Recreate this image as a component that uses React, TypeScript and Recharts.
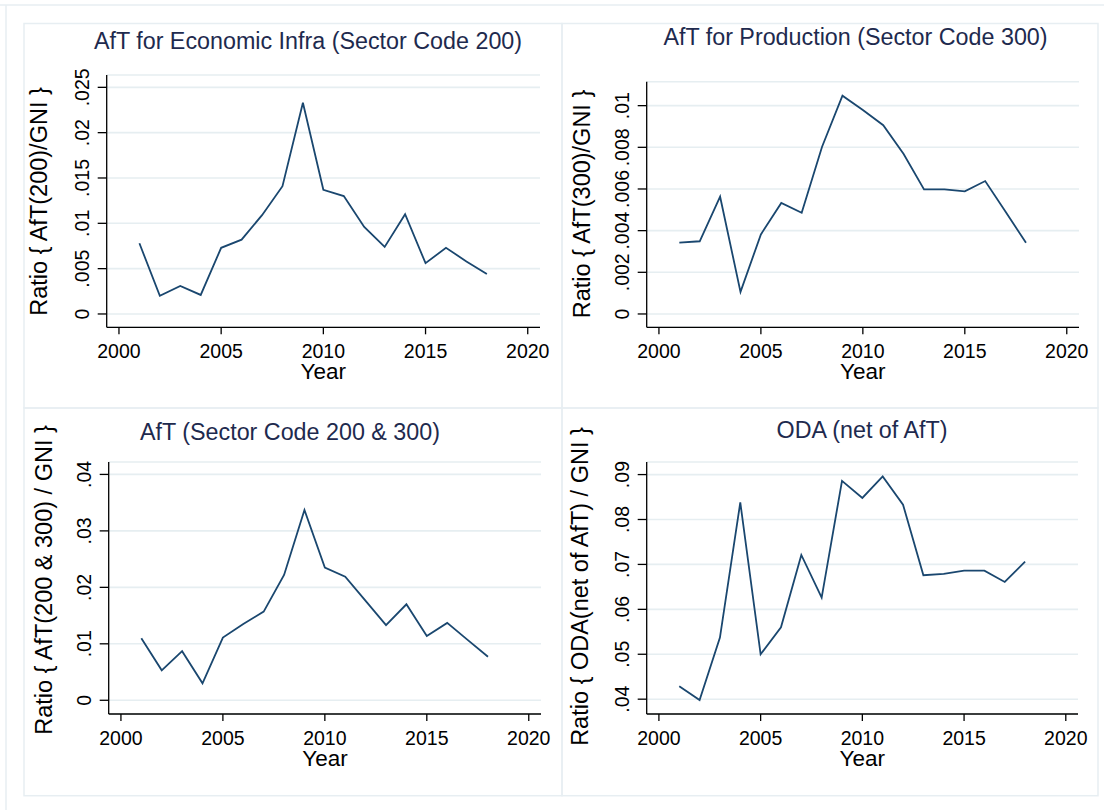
import { LineChart, Line, XAxis, YAxis, CartesianGrid } from "recharts";

const years = [2001, 2002, 2003, 2004, 2005, 2006, 2007, 2008, 2009, 2010, 2011, 2012, 2013, 2014, 2015, 2016, 2017, 2018];

// ratio series
const econInfra = [0.0078, 0.002, 0.0031, 0.0021, 0.0073, 0.0082, 0.0109, 0.0141, 0.0233, 0.0137, 0.013, 0.0096, 0.0074, 0.011, 0.0056, 0.0073, 0.0058, 0.0044];
const production = [0.00342, 0.00349, 0.00563, 0.00106, 0.00382, 0.00533, 0.00486, 0.00803, 0.01048, 0.00979, 0.00906, 0.00768, 0.00598, 0.00598, 0.00589, 0.00638, 0.00491, 0.00342];
const combined = [0.011, 0.0053, 0.0087, 0.003, 0.0111, 0.0135, 0.0157, 0.0222, 0.0337, 0.0235, 0.0219, 0.0176, 0.0133, 0.017, 0.0114, 0.0137, 0.0107, 0.0077];
const odaNet = [0.0429, 0.0398, 0.0537, 0.0838, 0.05, 0.056, 0.0721, 0.0626, 0.0886, 0.0848, 0.0896, 0.0833, 0.0676, 0.0679, 0.0686, 0.0686, 0.0661, 0.0706];

const xTicks = [2000, 2005, 2010, 2015, 2020];

const ticks200 = [0, 0.005, 0.01, 0.015, 0.02, 0.025];
const labels200 = ["0", ".005", ".01", ".015", ".02", ".025"];
const ticks300 = [0, 0.002, 0.004, 0.006, 0.008, 0.01];
const labels300 = ["0", ".002", ".004", ".006", ".008", ".01"];
const ticksBoth = [0, 0.01, 0.02, 0.03, 0.04];
const labelsBoth = ["0", ".01", ".02", ".03", ".04"];
const ticksOda = [0.04, 0.05, 0.06, 0.07, 0.08, 0.09];
const labelsOda = [".04", ".05", ".06", ".07", ".08", ".09"];

const FONT = "'Liberation Sans', Arial, sans-serif";
const NAVY = "#1a476f";
const GRID = "#e6eef1";
const FRAME = "#e7eef2";

type PanelProps = {
  left: number;
  top: number;
  values: number[];
  yDomain: [number, number];
  yTicks: number[];
  yLabels: string[];
  plot: { x0: number; x1: number; y0: number; y1: number };
};

const YTick = (props: any) => {
  const { x, y, payload, ticks, labels } = props;
  const i = ticks.indexOf(payload.value);
  return (
    <text x={x} y={y} transform={`rotate(-90, ${x}, ${y})`} textAnchor="middle" fontSize={19.5} fontFamily={FONT} fill="#000">
      {i >= 0 ? labels[i] : ""}
    </text>
  );
};

const Panel = ({ left, top, values, yDomain, yTicks, yLabels, plot }: PanelProps) => {
  const data = years.map((yr, i) => ({ year: yr, v: values[i] }));
  const W = 552;
  const H = 405;
  const margin = {
    top: plot.y0 - top,
    left: plot.x0 - left - 60,
    right: left + W - plot.x1,
    bottom: top + H - plot.y1 - 60,
  };
  return (
    <div style={{ position: "absolute", left, top }}>
      <LineChart width={W} height={H} data={data} margin={margin}>
        <CartesianGrid vertical={false} stroke={GRID} strokeWidth={1.6} />
        <XAxis
          dataKey="year"
          type="number"
          domain={[1999.4, 2020.6]}
          ticks={xTicks}
          interval={0}
          allowDataOverflow
          height={60}
          tickSize={7}
          tickMargin={10}
          axisLine={{ stroke: "#000", strokeWidth: 1.3 }}
          tickLine={{ stroke: "#000", strokeWidth: 1.3 }}
          tick={{ fontSize: 19.5, fill: "#000", fontFamily: FONT }}
        />
        <YAxis
          type="number"
          domain={yDomain}
          ticks={yTicks}
          interval={0}
          allowDataOverflow
          width={60}
          tickSize={9}
          tickMargin={9}
          axisLine={{ stroke: "#000", strokeWidth: 1.3 }}
          tickLine={{ stroke: "#000", strokeWidth: 1.3 }}
          tick={<YTick ticks={yTicks} labels={yLabels} />}
        />
        <Line type="linear" dataKey="v" stroke={NAVY} strokeWidth={1.8} dot={false} isAnimationActive={false} />
      </LineChart>
    </div>
  );
};

const titles = [
  { text: "AfT for Economic Infra (Sector Code 200)", x: 308, y: 48.5 },
  { text: "AfT for Production (Sector Code 300)", x: 855.5, y: 45 },
  { text: "AfT (Sector Code 200 & 300)", x: 290, y: 440 },
  { text: "ODA (net of AfT)", x: 862, y: 438 },
];

const yTitles = [
  { text: "Ratio { AfT(200)/GNI }", x: 46.7, y: 201.5 },
  { text: "Ratio { AfT(300)/GNI }", x: 590, y: 204 },
  { text: "Ratio { AfT(200 & 300) / GNI }", x: 51.7, y: 580 },
  { text: "Ratio { ODA(net of AfT) / GNI }", x: 588.3, y: 586.5 },
];

const xTitles = [
  { x: 323.3, y: 379.3 },
  { x: 862.8, y: 379.3 },
  { x: 325, y: 766 },
  { x: 862.3, y: 766 },
];

export default function App() {
  return (
    <div style={{ position: "absolute", left: 0, top: 0, width: 1104, height: 810, background: "#fff", overflow: "hidden" }}>
      <Panel left={0} top={0} values={econInfra} yDomain={[-0.00147, 0.02636]} yTicks={ticks200} yLabels={labels200} plot={{ x0: 106.7, x1: 540, y0: 75, y1: 327.3 }} />
      <Panel left={552} top={0} values={production} yDomain={[-0.00064, 0.01115]} yTicks={ticks300} yLabels={labels300} plot={{ x0: 646.7, x1: 1079, y0: 81.7, y1: 327.3 }} />
      <Panel left={0} top={405} values={combined} yDomain={[-0.00243, 0.0422]} yTicks={ticksBoth} yLabels={labelsBoth} plot={{ x0: 108.7, x1: 541, y0: 462, y1: 714 }} />
      <Panel left={552} top={405} values={odaNet} yDomain={[0.0367, 0.0928]} yTicks={ticksOda} yLabels={labelsOda} plot={{ x0: 646.7, x1: 1078, y0: 462, y1: 714 }} />
      <svg width={1104} height={810} style={{ position: "absolute", left: 0, top: 0, pointerEvents: "none" }}>
        <g stroke={FRAME} strokeWidth={1.5} fill="none">
          <line x1={0} y1={5} x2={1104} y2={5} />
          <line x1={6} y1={5} x2={6} y2={810} />
          <rect x={24} y={23.5} width={538} height={384.5} />
          <rect x={562} y={23.5} width={536} height={384.5} />
          <rect x={24} y={408} width={538} height={387.7} />
          <rect x={562} y={408} width={536} height={387.7} />
        </g>
        {titles.map((t) => (
          <text key={t.text} x={t.x} y={t.y} textAnchor="middle" fontSize={23.3} fontFamily={FONT} fill="#1e2a4e">
            {t.text}
          </text>
        ))}
        {yTitles.map((t) => (
          <text key={t.text} x={t.x} y={t.y} transform={`rotate(-90, ${t.x}, ${t.y})`} textAnchor="middle" fontSize={23.5} fontFamily={FONT} fill="#000">
            {t.text}
          </text>
        ))}
        {xTitles.map((t, i) => (
          <text key={i} x={t.x} y={t.y} textAnchor="middle" fontSize={22.5} fontFamily={FONT} fill="#000">
            Year
          </text>
        ))}
      </svg>
    </div>
  );
}
